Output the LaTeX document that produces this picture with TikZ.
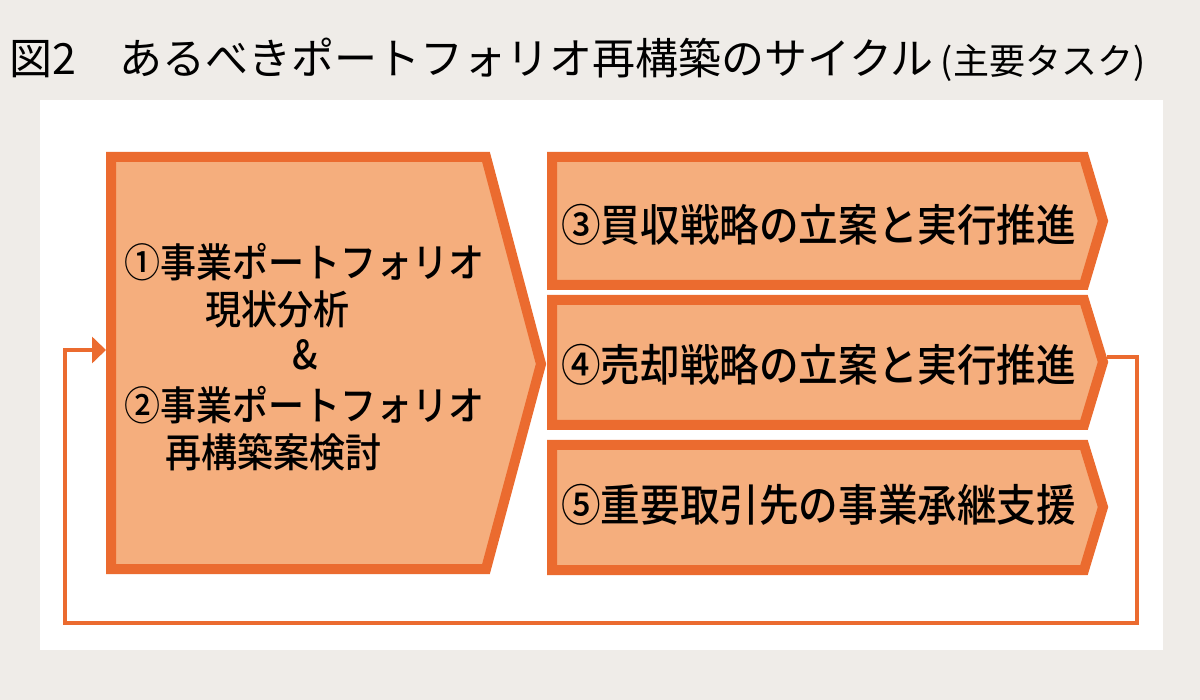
\documentclass[tikz,border=0pt]{standalone}
\usepackage{fontspec}
\usetikzlibrary{arrows.meta}
\newfontfamily\jptitle{Noto Sans CJK JP}
\newfontfamily\jpbox[FakeStretch=0.9]{Noto Sans CJK JP Medium}
\newfontfamily\jpleft[FakeStretch=0.9]{Noto Sans CJK JP Medium}
\definecolor{bggray}{HTML}{EFECE8}
\definecolor{ora}{HTML}{EB6B2F}
\definecolor{orfill}{HTML}{F5AE7D}
\tikzset{
  boxshape/.style={draw=ora, fill=orfill, line width=10pt, line join=miter},
  conn/.style={draw=ora, line width=4pt, -{Triangle[length=14pt,width=26pt]}},
  boxtext/.style={inner sep=0pt, anchor=west, font=\jpbox\fontsize{44}{50}\selectfont},
  lefttext/.style={inner sep=0pt, anchor=west, font=\jpleft\fontsize{40}{46}\selectfont},
}
\begin{document}
\begin{tikzpicture}[x=1pt,y=-1pt]
  % background and panel
  \fill[bggray] (0,0) rectangle (1200,700);
  \useasboundingbox (0,0) rectangle (1200,700);
  \fill[white] (40,100) rectangle (1163,650);
  % title
  \node[inner sep=0pt, anchor=base west, font=\jptitle\fontsize{43}{50}\selectfont] (title) at (9,75)
    {図2　あるべきポートフォリオ再構築のサイクル\kern7pt{\fontsize{36}{42}\selectfont (主要タスク)}};
  % left box
  \draw[boxshape] (111,157) -- (486,157) -- (541,364) -- (486,569) -- (111,569) -- cycle;
  \coordinate (inL) at (106,350);
  \node[lefttext] (l1) at (124,262) {①事業ポートフォリオ};
  \node[lefttext] (l2) at (205,309) {現状分析};
  \node[inner sep=0pt, font=\jpleft\fontsize{40}{46}\selectfont] (l3) at (305,355) {\&};
  \node[lefttext] (l4) at (124,405) {②事業ポートフォリオ};
  \node[lefttext] (l5) at (165,452) {再構築案検討};
  % right boxes
  \draw[boxshape] (552,157) -- (1084,157) -- (1103,221) -- (1084,285) -- (552,285) -- cycle;
  \draw[boxshape] (552,300) -- (1084,300) -- (1103,362) -- (1084,425) -- (552,425) -- cycle;
  \draw[boxshape] (552,445) -- (1084,445) -- (1103,507) -- (1084,570) -- (552,570) -- cycle;
  \coordinate (p4) at (1107,357);
  \node[boxtext] (t3) at (561,225) {③買収戦略の立案と実行推進};
  \node[boxtext] (t4) at (561,365) {④売却戦略の立案と実行推進};
  \node[boxtext] (t5) at (561,505) {⑤重要取引先の事業承継支援};
  % feedback connector
  \coordinate (c1) at (1137,357);
  \coordinate (c2) at (1137,623);
  \coordinate (c3) at (65,623);
  \coordinate (c4) at (65,350);
  \draw[conn] (p4) -- (c1) -- (c2) -- (c3) -- (c4) -- (inL);
\end{tikzpicture}
\end{document}
